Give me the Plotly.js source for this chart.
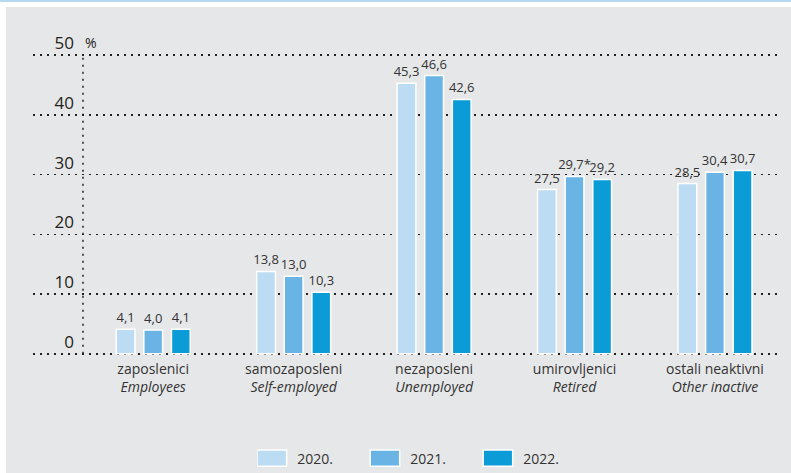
<!DOCTYPE html>
<html>
<head>
<meta charset="utf-8">
<script src="https://cdn.plot.ly/plotly-3.0.1.min.js"></script>
<style>
  html, body { margin: 0; padding: 0; background: #ffffff; width: 791px; height: 473px; overflow: hidden; }
  #topline { position: absolute; left: 0; top: 0; width: 791px; height: 2px; background: #b6d8f1; }
  #chart { position: absolute; left: 6px; top: 7px; width: 785px; height: 466px; }
</style>
</head>
<body>
<div id="topline"></div>
<div id="chart"></div>
<script>
// ---- data ----
const categoriesHr = ['zaposlenici', 'samozaposleni', 'nezaposleni', 'umirovljenici', 'ostali neaktivni'];
const categoriesEn = ['Employees', 'Self-employed', 'Unemployed', 'Retired', 'Other inactive'];
const years = ['2020.', '2021.', '2022.'];
const values2020 = [4.1, 13.8, 45.3, 27.5, 28.5];
const values2021 = [4.0, 13.0, 46.6, 29.7, 30.4];
const values2022 = [4.1, 10.3, 42.6, 29.2, 30.7];
const notes2020 = ['', '', '', '', ''];
const notes2021 = ['', '', '', '*', ''];
const notes2022 = ['', '', '', '', ''];
const yTicks = [0, 10, 20, 30, 40, 50];
const yUnit = '%';

// ---- styling ----
const colors = ['#bcdcf3', '#69b4e4', '#0b9bd7'];
const FONT = '"Open Sans", "Noto Sans", sans-serif';
const fmt = (v, n) => v.toFixed(1).replace('.', ',') + n;

const seriesValues = [values2020, values2021, values2022];
const seriesNotes = [notes2020, notes2021, notes2022];

const traces = years.map((yr, i) => ({
  type: 'bar',
  name: yr,
  x: categoriesHr,
  y: seriesValues[i],
  text: seriesValues[i].map((v, j) => fmt(v, seriesNotes[i][j])),
  textposition: 'outside',
  constraintext: 'none',
  textfont: { family: FONT, size: 13, color: '#333333' },
  cliponaxis: false,
  marker: { color: colors[i], line: { color: '#ffffff', width: 1.5 } },
  hoverinfo: 'x+y'
}));

const gridColor = '#231f20';

const layout = {
  width: 785,
  height: 466,
  margin: { l: 27, r: 11, t: 47, b: 118, autoexpand: false },
  paper_bgcolor: '#e6e7e8',
  plot_bgcolor: 'rgba(0,0,0,0)',
  barmode: 'group',
  bargap: 0.41,
  bargroupgap: 0.32,
  font: { family: FONT, color: '#333333' },
  showlegend: true,
  legend: {
    orientation: 'h',
    x: 0.527, xanchor: 'center',
    y: -0.344, yanchor: 'middle',
    font: { family: FONT, size: 14, color: '#333333' },
    entrywidth: 68,
    entrywidthmode: 'pixels',
    traceorder: 'normal',
    bgcolor: 'rgba(0,0,0,0)'
  },
  xaxis: {
    type: 'category',
    range: [-0.856, 4.463],
    tickmode: 'array',
    tickvals: categoriesHr,
    ticktext: categoriesHr.map((c, i) => c + '<br><i>' + categoriesEn[i] + '</i>'),
    tickfont: { family: FONT, size: 14, color: '#333333' },
    ticklabelstandoff: 4,
    automargin: false,
    showgrid: false,
    showline: false,
    zeroline: false,
    ticks: ''
  },
  yaxis: {
    range: [-0.2, 50.2],
    tickmode: 'array',
    tickvals: yTicks,
    ticktext: yTicks.map(String),
    tickfont: { family: FONT, size: 17, color: '#231f20' },
    ticklabelposition: 'outside',
    ticklabelstandoff: -42,
    ticklabelshift: -12,
    automargin: false,
    showgrid: true,
    gridcolor: gridColor,
    gridwidth: 1.5,
    griddash: '2px,5px',
    zeroline: false,
    showline: false,
    ticks: ''
  },
  shapes: [{
    type: 'line', xref: 'paper', yref: 'y',
    x0: 0.0669, x1: 0.0669, y0: yTicks[0], y1: yTicks[yTicks.length - 1],
    line: { color: gridColor, width: 1.5, dash: '2px,5px' },
    layer: 'below'
  }],
  annotations: [{
    text: yUnit, xref: 'paper', yref: 'y',
    x: 0.0670, y: yTicks[yTicks.length - 1],
    xanchor: 'left', yanchor: 'middle', yshift: 13,
    showarrow: false,
    font: { family: FONT, size: 14, color: '#231f20' }
  }]
};

function fixLegendSwatches(gd) {
  gd.querySelectorAll('.legend .legendpoints path').forEach(p => {
    p.setAttribute('d', 'M9.5,8.2H-20V-8.2H9.5Z');
  });
}

const gdEl = document.getElementById('chart');
Plotly.newPlot(gdEl, traces, layout, { displayModeBar: false, staticPlot: true }).then(gd => {
  fixLegendSwatches(gd);
  gd.on('plotly_afterplot', () => fixLegendSwatches(gd));
  setTimeout(() => fixLegendSwatches(gd), 50);
  setTimeout(() => fixLegendSwatches(gd), 300);
});
</script>
</body>
</html>
